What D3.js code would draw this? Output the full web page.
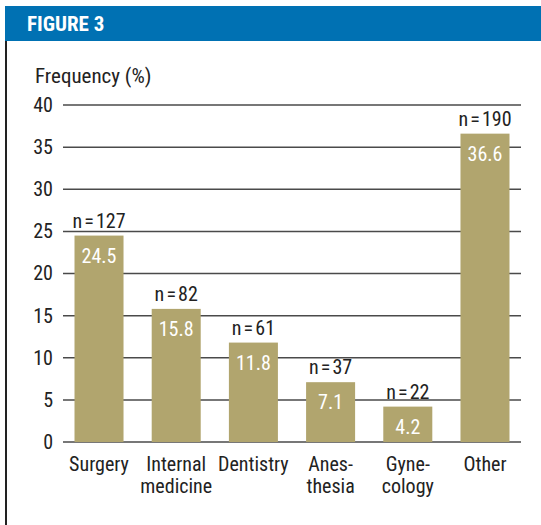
<!DOCTYPE html>
<html><head><meta charset="utf-8">
<script src="https://cdn.jsdelivr.net/npm/d3@7"></script>
<style>
html,body{margin:0;padding:0;background:#fff;}
svg text{font-family:"Roboto Condensed","Liberation Sans Narrow","Arial Narrow",sans-serif;}
</style></head>
<body>
<svg id="c" width="541" height="525"></svg>
<script>
const categories = [["Surgery"],["Internal","medicine"],["Dentistry"],["Anes-","thesia"],["Gyne-","cology"],["Other"]];
const values = [24.5, 15.8, 11.8, 7.1, 4.2, 36.6];
const counts = [127, 82, 61, 37, 22, 190];
const yTicks = [0,5,10,15,20,25,30,35,40];

const FS = 20;
const svg = d3.select("#c");
// header
svg.append("rect").attr("x",5).attr("y",6).attr("width",536).attr("height",35).attr("fill","#0071b3");
svg.append("text").attr("x",27).attr("y",31).attr("fill","#fff").attr("font-size",21).attr("font-weight","bold").text("FIGURE 3");
svg.append("line").attr("x1",6).attr("x2",6).attr("y1",41).attr("y2",525).attr("stroke","#222").attr("stroke-width",2);

const x = d3.scaleBand().domain(d3.range(categories.length)).range([63,521]).paddingInner(0.365).paddingOuter(0.149);
const y = d3.scaleLinear().domain([0,40]).range([442,105]);

const g = svg.append("g");
const yAxis = d3.axisLeft(y).tickValues(yTicks).tickSize(0).tickPadding(10);
const ax = svg.append("g").attr("transform","translate(63,0)").call(yAxis);
ax.select(".domain").remove();
ax.selectAll("text").attr("font-size",FS).attr("fill","#222").style("font-family","'Roboto Condensed',sans-serif");

g.selectAll("line.grid").data(yTicks).join("line").attr("class","grid")
 .attr("x1",63).attr("x2",521).attr("y1",d=>y(d)).attr("y2",d=>y(d))
 .attr("stroke","#4a4a4a").attr("stroke-width",1.5);

g.selectAll("rect.bar").data(values).join("rect").attr("class","bar")
 .attr("x",(d,i)=>x(i)).attr("width",x.bandwidth())
 .attr("y",d=>y(d)).attr("height",d=>y(0)-y(d)).attr("fill","#b1a56e");

g.selectAll("text.val").data(values).join("text").attr("class","val")
 .attr("x",(d,i)=>x(i)+x.bandwidth()/2).attr("y",d=>y(d)+27)
 .attr("text-anchor","middle").attr("fill","#fff").attr("font-size",FS)
 .text(d=>d.toFixed(1));

g.selectAll("text.n").data(counts).join("text").attr("class","n")
 .attr("x",(d,i)=>x(i)+x.bandwidth()/2).attr("y",(d,i)=>y(values[i])-8)
 .attr("text-anchor","middle").attr("fill","#222").attr("font-size",FS)
 .text(d=>"n\u200a=\u200a"+d);

const cl = g.selectAll("text.cat").data(categories).join("text").attr("class","cat")
 .attr("text-anchor","middle").attr("fill","#222").attr("font-size",FS);
cl.each(function(d,i){
  const t=d3.select(this);
  d.forEach((s,j)=>t.append("tspan").attr("x",x(i)+x.bandwidth()/2).attr("y",471+j*22).text(s));
});

svg.append("text").attr("x",35).attr("y",83).attr("font-size",21).attr("fill","#222").text("Frequency (%)");
</script>
</body></html>
